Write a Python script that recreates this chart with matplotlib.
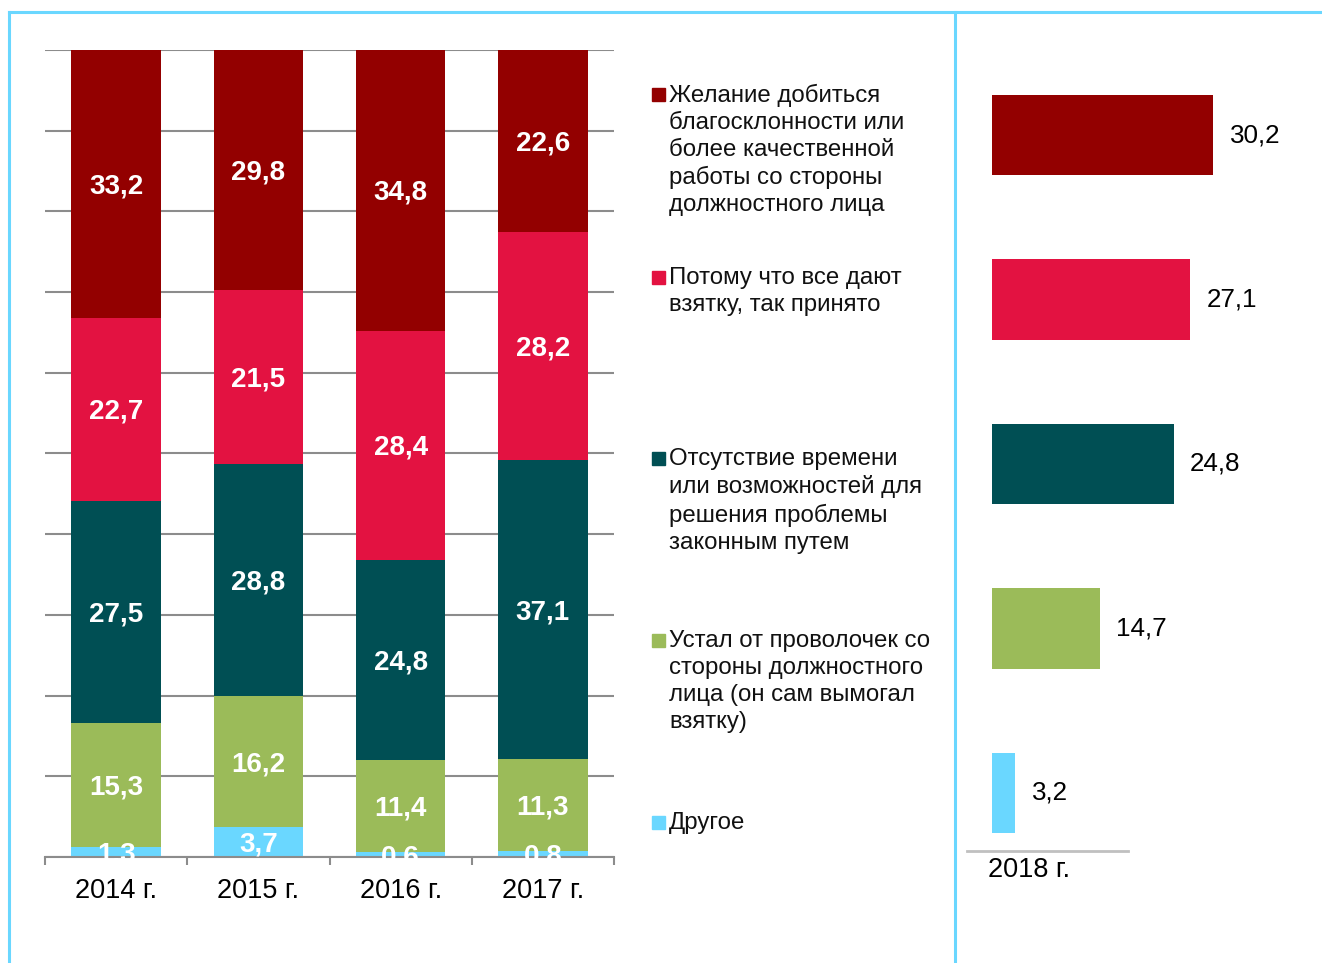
import matplotlib.pyplot as plt
from matplotlib.patches import Rectangle
from matplotlib.lines import Line2D

plt.rcParams['font.family'] = ['Liberation Sans', 'DejaVu Sans']

# =========================
# DATA
# =========================
years = ["2014 г.", "2015 г.", "2016 г.", "2017 г."]
reasons = [
    "Желание добиться\nблагосклонности или\nболее качественной\nработы со стороны\nдолжностного лица",
    "Потому что все дают\nвзятку, так принято",
    "Отсутствие времени\nили возможностей для\nрешения проблемы\nзаконным путем",
    "Устал от проволочек со\nстороны должностного\nлица (он сам вымогал\nвзятку)",
    "Другое",
]
favour = [33.2, 29.8, 34.8, 22.6]
everyone = [22.7, 21.5, 28.4, 28.2]
no_time = [27.5, 28.8, 24.8, 37.1]
tired = [15.3, 16.2, 11.4, 11.3]
other = [1.3, 3.7, 0.6, 0.8]
values_2018 = [30.2, 27.1, 24.8, 14.7, 3.2]
label_2018 = "2018 г."

colors = ["#930000", "#E31241", "#004F54", "#9BBB59", "#6AD7FF"]
border = "#6AD7FF"

W, H = 1322, 963
fig = plt.figure(figsize=(W / 100, H / 100), dpi=100)

def fx(px):
    return px / W

def fy(py):
    return 1 - py / H

# =========================
# STACKED BARS 2014-2017
# =========================
ax = fig.add_axes([fx(45), fy(857), fx(614 - 45), (857 - 50) / H])
series = [other, tired, no_time, everyone, favour]
series_colors = colors[::-1]
x = list(range(len(years)))
bottom = [0.0] * len(years)
for vals, col in zip(series, series_colors):
    ax.bar(x, vals, width=0.63, bottom=bottom, color=col, zorder=2)
    for i, v in enumerate(vals):
        ax.text(i, bottom[i] + v / 2 - 0.3, f"{v:.1f}".replace(".", ","),
                ha="center", va="center", color="white",
                fontsize=20, fontweight="bold", zorder=3)
    bottom = [b + v for b, v in zip(bottom, vals)]

ax.set_xlim(-0.5, 3.5)
ax.set_ylim(0, 100)
ax.set_yticks(range(0, 101, 10))
ax.tick_params(axis="y", length=0, labelleft=False)
ax.yaxis.grid(True, color="#8c8c8c", linewidth=1.5, zorder=0)
ax.set_axisbelow(True)
for s in ["left", "right", "top"]:
    ax.spines[s].set_visible(False)
ax.spines["bottom"].set_color("#8c8c8c")
ax.spines["bottom"].set_linewidth(1.5)
ax.set_xticks([-0.5, 0.5, 1.5, 2.5, 3.5])
ax.set_xticklabels([])
ax.tick_params(axis="x", which="major", length=6, width=1.5, color="#8c8c8c")
ax.set_xticks(x, minor=True)
ax.set_xticklabels(years, minor=True, fontsize=19.5)
ax.tick_params(axis="x", which="minor", length=0, pad=15)

# =========================
# LEGEND
# =========================
legend_y = [94, 277, 458, 640, 822]
for txt, col, ly in zip(reasons, colors, legend_y):
    fig.patches.append(Rectangle((fx(652), fy(ly + 7)), fx(13), 13 / H,
                                 transform=fig.transFigure, color=col))
    fig.text(fx(669), fy(ly - 10), txt, ha="left", va="top",
             fontsize=17.3, linespacing=1.29, color="#111111")

# =========================
# 2018 BARS
# =========================
ax2 = fig.add_axes([fx(967), fy(851), fx(1128 - 967), (851 - 52) / H])
pos = list(range(len(values_2018)))
ax2.barh(pos, values_2018, height=0.49, color=colors, clip_on=False)
for p, v in zip(pos, values_2018):
    ax2.annotate(f"{v:.1f}".replace(".", ","), (v, p), xytext=(12, 0),
                 textcoords="offset points", ha="left", va="center",
                 fontsize=18.7, color="black", annotation_clip=False)
ax2.set_xlim(-25 / 7.32, 136 / 7.32)
ax2.set_ylim(4.353, -0.505)
ax2.set_xticks([])
ax2.set_yticks([])
for s in ["left", "right", "top"]:
    ax2.spines[s].set_visible(False)
ax2.spines["bottom"].set_color("#c0c0c0")
ax2.spines["bottom"].set_linewidth(2)
fig.text(fx(1029), fy(870), label_2018, ha="center", va="center", fontsize=19.5)

# =========================
# FRAME LINES
# =========================
fig.lines.append(Line2D([fx(9), fx(9)], [fy(12), 0], transform=fig.transFigure,
                        color=border, linewidth=2.2))
fig.lines.append(Line2D([fx(9), 1], [fy(12), fy(12)], transform=fig.transFigure,
                        color=border, linewidth=2.2))
fig.lines.append(Line2D([fx(955), fx(955)], [fy(12), 0], transform=fig.transFigure,
                        color=border, linewidth=2.2))

fig.savefig("out.png", dpi=100)
